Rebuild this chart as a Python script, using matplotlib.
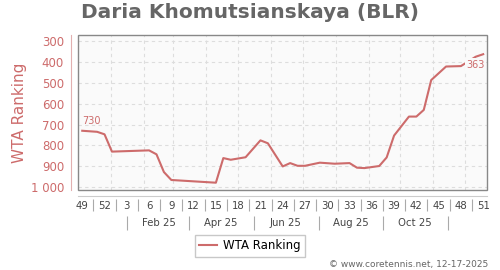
import datetime as dt

import matplotlib
matplotlib.use('Agg')
import matplotlib.pyplot as plt
import matplotlib.dates as mdates
from matplotlib.patches import Rectangle
from matplotlib.ticker import FuncFormatter

# ranking data, one point per ISO week (only the weeks where the line bends)
week_year = [2024, 2024, 2024, 2025, 2025, 2025, 2025, 2025, 2025, 2025, 2025, 2025,
             2025, 2025, 2025, 2025, 2025, 2025, 2025, 2025, 2025, 2025, 2025, 2025,
             2025, 2025, 2025, 2025, 2025, 2025, 2025, 2025, 2025, 2025]
week_num = [49, 51, 52, 1, 6, 7, 8, 9, 15, 16, 17, 19, 21, 22, 24, 25, 26, 27,
            29, 31, 33, 34, 35, 37, 38, 39, 41, 42, 43, 44, 46, 48, 50, 51]
ranks = [730, 735, 747, 830, 824, 843, 928, 966, 979, 861, 869, 857, 776, 790,
         901, 885, 898, 898, 883, 888, 885, 907, 909, 899, 858, 753, 662, 662,
         630, 487, 422, 420, 375, 363]

y_ticks = [300, 400, 500, 600, 700, 800, 900, 1000]
month_labels = ["Feb 25", "Apr 25", "Jun 25", "Aug 25", "Oct 25"]
month_label_dates = [dt.date(2025, m, 15) for m in (2, 4, 6, 8, 10)]
month_sep_dates = [dt.date(2025, 1, 16), dt.date(2025, 3, 16), dt.date(2025, 5, 16),
                   dt.date(2025, 7, 16), dt.date(2025, 9, 15), dt.date(2025, 11, 15)]

red = '#cd6b6b'
grey_txt = '#444444'


def week_x(y, w):
    # week points sit on the Thursday of the ISO week
    return mdates.date2num(dt.date.fromisocalendar(y, w, 4))


x = [week_x(y, w) for y, w in zip(week_year, week_num)]

# week labels every 3 weeks from week 49 of 2024
start = dt.date.fromisocalendar(2024, 49, 4)
label_days = [start + dt.timedelta(weeks=3 * k) for k in range(19)]
week_ticks = [mdates.date2num(d) for d in label_days]
week_labels = [str(d.isocalendar()[1]) for d in label_days]
sep_ticks = [t + 10.5 for t in week_ticks[:-1]]

fig = plt.figure(figsize=(5, 2.7), dpi=100)
ax = fig.add_axes([0.156, 0.2963, 0.818, 0.574])
ax.set_facecolor('#fafafa')

# month gridlines
for m in range(1, 13):
    ax.axvline(mdates.date2num(dt.date(2025, m, 1)), color='#dddddd',
               lw=0.8, ls=(0, (3, 3)), zorder=0)
ax.grid(axis='y', color='#dddddd', lw=0.8, ls=(0, (3, 3)))
ax.set_axisbelow(True)

ax.plot(x, ranks, color=red, lw=1.5, label='WTA Ranking',
        solid_joinstyle='round', zorder=3)

ax.annotate(str(ranks[0]), (x[0], ranks[0]), xytext=(0, 5),
            textcoords='offset points', ha='left', va='baseline',
            fontsize=7, color=red)
ax.annotate(str(ranks[-1]), (x[-1], ranks[-1]), xytext=(1, -4),
            textcoords='offset points', ha='right', va='top',
            fontsize=7, color=red, zorder=4,
            bbox=dict(facecolor='#fafafa', edgecolor='none', pad=1))

ax.set_xlim(mdates.date2num(dt.date(2024, 12, 1)),
            mdates.date2num(dt.date(2025, 12, 21)) + 0.6)
ax.set_ylim(1014, 271)
ax.set_yticks(y_ticks)
ax.yaxis.set_major_formatter(FuncFormatter(lambda v, p: f"{v:,.0f}".replace(",", " ")))
ax.tick_params(axis='y', length=0, pad=5, labelsize=8.5, labelcolor=red)

ax.set_xticks(week_ticks)
ax.set_xticklabels(week_labels)
ax.tick_params(axis='x', which='major', length=0, pad=4, labelsize=7.3,
               labelcolor=grey_txt)

for s in ('top', 'right'):
    ax.spines[s].set_visible(False)
ax.spines['left'].set_position(('outward', 5))
ax.spines['left'].set_color('#e2b0b0')
ax.spines['bottom'].set_position(('outward', 4))
ax.spines['bottom'].set_color('#cccccc')
ax.add_patch(Rectangle((0, 0), 1, 1, transform=ax.transAxes, fill=False,
                       edgecolor='#888888', lw=1.0, clip_on=False, zorder=5))

# separators between week labels
wsep = ax.secondary_xaxis(-0.058)
wsep.spines['bottom'].set_visible(False)
wsep.set_xticks(sep_ticks)
wsep.set_xticklabels([''] * len(sep_ticks))
wsep.tick_params(which='major', length=8.5, width=0.8, color='#aaaaaa')

# second row: months
sec = ax.secondary_xaxis(-0.165)
sec.spines['bottom'].set_visible(False)
sec.set_xticks([mdates.date2num(d) for d in month_sep_dates])
sec.set_xticklabels([''] * len(month_sep_dates))
sec.set_xticks([mdates.date2num(d) for d in month_label_dates], minor=True)
sec.set_xticklabels(month_labels, minor=True)
sec.tick_params(which='major', length=10, width=0.8, color='#aaaaaa')
sec.tick_params(which='minor', length=0, pad=1.5, labelsize=7.3, labelcolor=grey_txt)

fig.text(0.5, 0.952, 'Daria Khomutsianskaya (BLR)', ha='center', va='center',
         fontsize=14.5, fontweight='bold', color='#666666')
fig.text(0.04, 1 - 112.5 / 270, 'WTA Ranking', rotation=90, ha='center',
         va='center', fontsize=11, color=red)
fig.legend(loc='center', bbox_to_anchor=(0.5, 0.089), fontsize=8.5,
           fancybox=False, edgecolor='#bbbbbb', handlelength=1.5,
           borderpad=0.4, handletextpad=0.5)
fig.text(0.976, 0.022, '\u00a9 www.coretennis.net, 12-17-2025', ha='right',
         va='center', fontsize=6.5, color='#666666')

fig.savefig('out.png', dpi=100)
